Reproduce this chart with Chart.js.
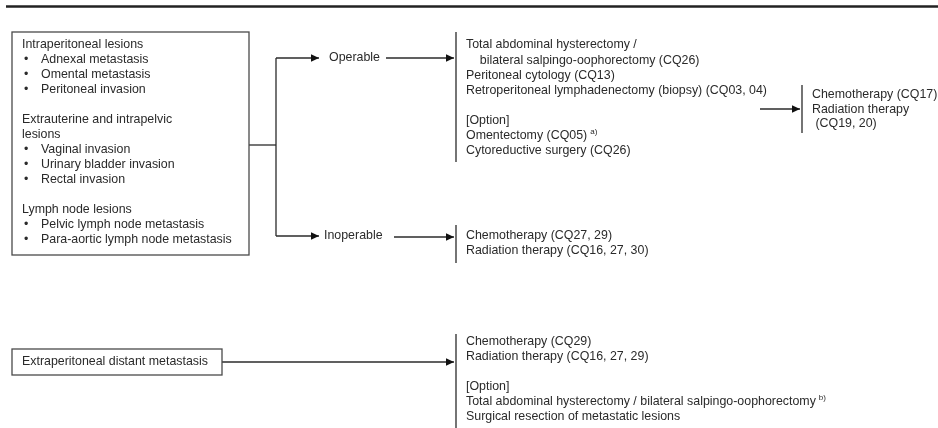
<!DOCTYPE html>
<html>
<head>
<meta charset="utf-8">
<script src="https://cdn.jsdelivr.net/npm/chart.js@4.4.0/dist/chart.umd.min.js"></script>
<style>
    html, body { margin: 0; padding: 0; background: #fff; }
    #wrap { width: 938px; height: 428px; }
</style>
</head>
<body>
<div id="wrap"><canvas id="fluxo"></canvas></div>
<script>
// Textos do fluxograma ('' = linha em branco, '^' = sobrescrito)
const intraperitoneal = ['Adnexal metastasis', 'Omental metastasis', 'Peritoneal invasion'];
const intrapelvica = ['Vaginal invasion', 'Urinary bladder invasion', 'Rectal invasion'];
const linfonodos = ['Pelvic lymph node metastasis', 'Para-aortic lymph node metastasis'];
const ramos = ['Operable', 'Inoperable'];
const tratOperavel = [
    'Total abdominal hysterectomy /',
    '    bilateral salpingo-oophorectomy (CQ26)',
    'Peritoneal cytology (CQ13)',
    'Retroperitoneal lymphadenectomy (biopsy) (CQ03, 04)',
    '',
    '[Option]',
    'Omentectomy (CQ05)^a)',
    'Cytoreductive surgery (CQ26)'
];
const tratInoperavel = ['Chemotherapy (CQ27, 29)', 'Radiation therapy (CQ16, 27, 30)'];
const tratAdjuvante = ['Chemotherapy (CQ17)', 'Radiation therapy', ' (CQ19, 20)'];
const metastaseDistante = ['Extraperitoneal distant metastasis'];
const tratDistante = [
    'Chemotherapy (CQ29)',
    'Radiation therapy (CQ16, 27, 29)',
    '',
    '[Option]',
    'Total abdominal hysterectomy / bilateral salpingo-oophorectomy^b)',
    'Surgical resection of metastatic lesions'
];

// Linhas da caixa da esquerda
function grupo(titulo, itens) {
    return (Array.isArray(titulo) ? titulo : [titulo]).map(t => ({ t: t }))
        .concat(itens.map(t => ({ t: t, bullet: true })));
}
const caixaEsquerda = [].concat(
    grupo('Intraperitoneal lesions', intraperitoneal), [{ t: '' }],
    grupo(['Extrauterine and intrapelvic', 'lesions'], intrapelvica), [{ t: '' }],
    grupo('Lymph node lesions', linfonodos)
);

// Layout (coordenadas da escala 0..938 x 0..428)
const blocos = [
    { linhas: caixaEsquerda, x: 22, y: 45, lh: 15 },
    { linhas: tratOperavel.map(t => ({ t })), x: 466, y: 45, lh: 15.15 },
    { linhas: tratInoperavel.map(t => ({ t })), x: 466, y: 236, lh: 15 },
    { linhas: tratAdjuvante.map(t => ({ t })), x: 812, y: 95, lh: 14.5 },
    { linhas: metastaseDistante.map(t => ({ t })), x: 22, y: 362, lh: 15 },
    { linhas: tratDistante.map(t => ({ t })), x: 466, y: 342, lh: 15 },
    { linhas: [{ t: ramos[0] }], x: 329, y: 58, lh: 15 },
    { linhas: [{ t: ramos[1] }], x: 324, y: 236, lh: 15 }
];
const caixas = [
    { x: 12, y: 32, w: 237, h: 223 },
    { x: 12, y: 349, w: 210, h: 26 }
];

function seg(pts, seta) {
    return {
        data: pts.map(p => ({ x: p[0], y: p[1] })),
        seta: !!seta,
        showLine: true,
        borderColor: '#2b2b2b',
        borderWidth: 1.3,
        pointRadius: 0,
        fill: false
    };
}
const conexoes = [
    seg([[249, 145], [276, 145]]),
    seg([[276, 58], [276, 236]]),
    seg([[276, 58], [319, 58]], true),
    seg([[276, 236], [319, 236]], true),
    seg([[386, 58], [454, 58]], true),
    seg([[394, 237], [454, 237]], true),
    seg([[760, 109], [800, 109]], true),
    seg([[222, 362], [454, 362]], true),
    seg([[456, 32], [456, 162]]),
    seg([[456, 225], [456, 263]]),
    seg([[802, 85], [802, 133]]),
    seg([[456, 334], [456, 428]])
];
const regua = seg([[6, 6.5], [938, 6.5]]);
regua.borderWidth = 2.5;
regua.borderColor = '#222';
conexoes.push(regua);

const fonte = '"Liberation Sans", Arial, sans-serif';

const desenhoPlugin = {
    id: 'desenho',
    afterDatasetsDraw(chart) {
        const ctx = chart.ctx;
        const sx = chart.scales.x, sy = chart.scales.y;
        ctx.save();

        // setas
        chart.data.datasets.forEach(ds => {
            if (!ds.seta) return;
            const p = ds.data[ds.data.length - 1];
            const px = sx.getPixelForValue(p.x), py = sy.getPixelForValue(p.y);
            ctx.fillStyle = '#111';
            ctx.beginPath();
            ctx.moveTo(px, py);
            ctx.lineTo(px - 8, py - 3.8);
            ctx.lineTo(px - 8, py + 3.8);
            ctx.closePath();
            ctx.fill();
        });

        // caixas
        ctx.strokeStyle = '#4a4a4a';
        ctx.lineWidth = 1.3;
        caixas.forEach(c => {
            const x0 = sx.getPixelForValue(c.x), y0 = sy.getPixelForValue(c.y);
            const x1 = sx.getPixelForValue(c.x + c.w), y1 = sy.getPixelForValue(c.y + c.h);
            ctx.strokeRect(x0, y0, x1 - x0, y1 - y0);
        });

        // textos
        ctx.fillStyle = '#2a2a2a';
        ctx.textBaseline = 'middle';
        blocos.forEach(b => {
            b.linhas.forEach((l, i) => {
                if (!l.t) return;
                const y = sy.getPixelForValue(b.y + i * b.lh);
                let x = sx.getPixelForValue(b.x);
                ctx.font = '12.4px ' + fonte;
                if (l.bullet) {
                    ctx.fillText('•', x + 2, y);
                    x = sx.getPixelForValue(b.x + 19);
                }
                const partes = l.t.split('^');
                ctx.fillText(partes[0], x, y);
                if (partes[1]) {
                    const w = ctx.measureText(partes[0]).width;
                    ctx.font = '8px ' + fonte;
                    ctx.fillText(partes[1], x + w + 3, y - 4);
                }
            });
        });
        ctx.restore();
    }
};

new Chart(document.getElementById('fluxo'), {
    type: 'scatter',
    data: { datasets: conexoes },
    options: {
        responsive: true,
        maintainAspectRatio: false,
        animation: false,
        layout: { padding: 0 },
        scales: {
            x: { type: 'linear', min: 0, max: 938, display: false },
            y: { type: 'linear', min: 0, max: 428, reverse: true, display: false }
        },
        plugins: {
            legend: { display: false },
            tooltip: { enabled: false }
        }
    },
    plugins: [desenhoPlugin]
});
</script>
</body>
</html>
